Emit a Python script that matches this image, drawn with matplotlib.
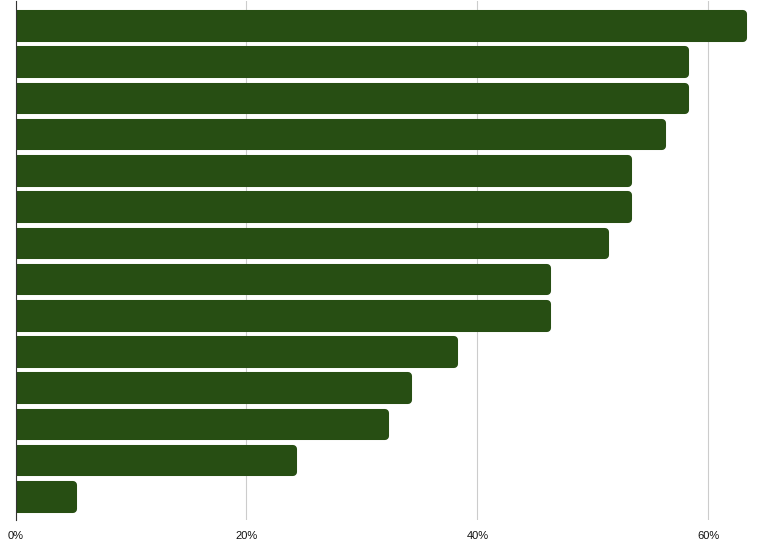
import matplotlib.pyplot as plt
import numpy as np

values = [63, 58, 58, 56, 53, 53, 51, 46, 46, 38, 34, 32, 24, 5]
ticks = [0, 20, 40, 60]
tick_labels = ['0%', '20%', '40%', '60%']

plt.rcParams['font.family'] = ['Liberation Sans', 'DejaVu Sans']

fig = plt.figure(figsize=(7.57, 5.41), dpi=100)
ax = fig.add_axes([15.5 / 757, 21 / 541, 1 - 15.5 / 757, 519 / 541])

pos = np.arange(len(values))
# thick edge with round joins gives the rounded bar ends
ax.barh(pos, values, height=0.65, color='#274e13', edgecolor='#274e13',
        linewidth=5.8, joinstyle='round', zorder=2)

ax.set_xlim(0, 64.2)
ax.set_ylim(13.64, -0.69)
ax.set_xticks(ticks)
ax.set_xticklabels(tick_labels, fontsize=8, color='#111111')
ax.set_yticks([])
ax.tick_params(axis='x', length=0, pad=8)
ax.grid(axis='x', color='#cccccc', linewidth=0.8, zorder=0)
ax.set_axisbelow(True)

for side in ['top', 'right', 'bottom']:
    ax.spines[side].set_visible(False)
ax.spines['left'].set_color('#333333')
ax.spines['left'].set_zorder(3)

fig.savefig('out.png', dpi=100)
